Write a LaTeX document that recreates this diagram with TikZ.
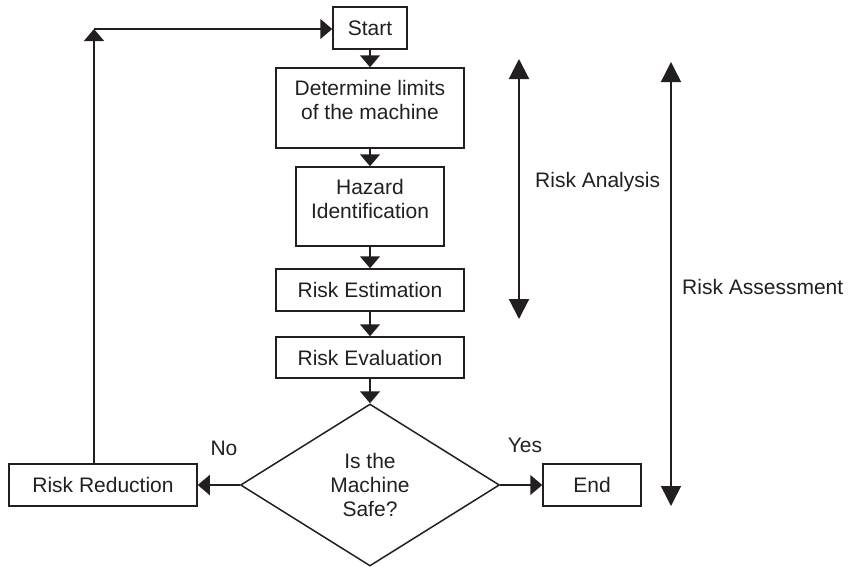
\documentclass[tikz,border=0pt]{standalone}
\usepackage{fontspec}
\setmainfont{Liberation Sans}
\usetikzlibrary{arrows.meta,shapes.geometric,calc}
\definecolor{ink}{RGB}{35,31,32}
\begin{document}
\begin{tikzpicture}[x=1pt,y=-1pt,
  every node/.style={font=\fontsize{21}{24}\selectfont, text=ink},
  box/.style={draw=ink, line width=1.5pt, rectangle, inner sep=0pt},
  flow/.style={draw=ink, line width=1.5pt, -{Triangle[length=12pt,width=20pt]}},
  span/.style={draw=ink, {Triangle[length=20pt,width=20pt]}-{Triangle[length=20pt,width=20pt]}},
  tag/.style={anchor=west, inner sep=0pt}]
\useasboundingbox (0,0) rectangle (849,566);

% process boxes
\node[box, minimum width=74pt, minimum height=42pt] (start) at (370,28) {Start};
\node[box, minimum width=188pt, minimum height=80pt] (limits) at (370,108) {};
\node[align=center, inner sep=0pt] (limitsT) at (370,99.5) {Determine limits\\of the machine};
\node[box, minimum width=148pt, minimum height=79pt] (hazard) at (370,206.5) {};
\node[align=center, inner sep=0pt] (hazardT) at (370,198.5) {Hazard\\Identification};
\node[box, minimum width=188pt, minimum height=42pt] (estim) at (370,290) {Risk Estimation};
\node[box, minimum width=188pt, minimum height=41pt] (evalu) at (370,357.5) {Risk Evaluation};

% decision
\node[draw=ink, line width=1.5pt, diamond, minimum width=259pt, minimum height=162pt,
      inner sep=0pt, align=center] (safe) at (370,485) {Is the\\Machine\\Safe?};

\node[box, minimum width=188pt, minimum height=42pt] (reduce) at (103,485) {Risk Reduction};
\node[box, minimum width=98pt, minimum height=42pt] (finish) at (592,485) {End};

% main flow
\draw[flow] (start) -- (limits);
\draw[flow] (limits) -- (hazard);
\draw[flow] (hazard) -- (estim);
\draw[flow] (estim) -- (evalu);
\draw[flow] (evalu) -- (safe.north);
\draw[flow] (safe.west) -- (reduce.east);
\draw[flow] (safe.east) -- (finish.west);

% feedback loop
\coordinate (loopfoot) at (94,464);
\coordinate (loopcorner) at (94,29);
\draw[flow] (loopfoot) -- (loopcorner);
\draw[flow] (loopcorner) -- (start.west |- loopcorner);

% branch labels
\node (no) at (224,448) {No};
\node (yes) at (525,445) {Yes};

% scope brackets
\coordinate (anaTop) at (519,59);
\coordinate (anaBot) at (519,319);
\draw[span, line width=2.2pt] (anaTop) -- (anaBot);
\node[tag] (ana) at (535,182) {Risk Analysis};

\coordinate (assTop) at (671,62);
\coordinate (assBot) at (671,506);
\draw[span, line width=1.5pt] (assTop) -- (assBot);
\node[tag] (ass) at (682,287) {Risk Assessment};
\end{tikzpicture}
\end{document}
